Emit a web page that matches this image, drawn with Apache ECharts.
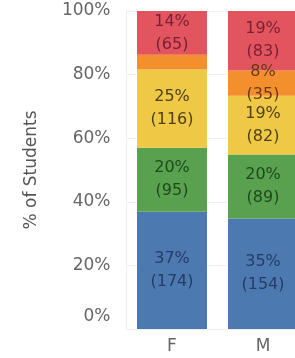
<!DOCTYPE html>
<html>
<head>
<meta charset="utf-8">
<script src="https://cdn.jsdelivr.net/npm/echarts@6/dist/echarts.min.js"></script>
<style>
    html, body { margin: 0; padding: 0; background: #fff; }
    #diagram { width: 295px; height: 358px; }
</style>
</head>
<body>
<div id="diagram"></div>
<script>
// 类别
let genders = ['F', 'M'];

// 各段人数（自下而上）
let blueCounts = [174, 154];
let greenCounts = [95, 89];
let yellowCounts = [116, 82];
let orangeCounts = [22, 35];
let redCounts = [65, 83];

// y轴刻度
let tickValues = [0, 20, 40, 60, 80, 100];

window.onload = function () {

    let diagram = echarts.init(document.getElementById('diagram'));

    let groups = [
        { name: 'blue', counts: blueCounts, color: '#4c79b0', text: '#263c66' },
        { name: 'green', counts: greenCounts, color: '#59a14f', text: '#1d4a1c' },
        { name: 'yellow', counts: yellowCounts, color: '#efc846', text: '#4f4112' },
        { name: 'orange', counts: orangeCounts, color: '#f48f2e', text: '#6a3a12' },
        { name: 'red', counts: redCounts, color: '#e2555e', text: '#782034' }
    ];

    // 每个类别的总人数
    let totals = genders.map(function (g, i) {
        let sum = 0;
        groups.forEach(function (grp) { sum += grp.counts[i]; });
        return sum;
    });

    let series = groups.map(function (grp) {
        return {
            name: grp.name,
            type: 'bar',
            stack: 'all',
            barWidth: 70,
            itemStyle: { color: grp.color },
            label: {
                show: true,
                position: 'inside',
                color: grp.text,
                fontFamily: 'DejaVu Sans',
                fontSize: 16,
                lineHeight: 23,
                formatter: function (p) {
                    if (p.value < 5) return '';   // 太小的不显示
                    return Math.round(p.value) + '%\n(' + grp.counts[p.dataIndex] + ')';
                }
            },
            data: grp.counts.map(function (c, i) { return c / totals[i] * 100; })
        };
    });

    let option = {
        animation: false,
        grid: {
            left: 126.5,
            width: 182,     // 右边超出画面，被裁掉一部分
            top: 11,
            bottom: 29,
            outerBoundsMode: 'none'
        },
        xAxis: {
            type: 'category',
            data: genders,
            axisLine: { show: true, lineStyle: { color: '#ececec' } },
            axisTick: { show: false },
            axisLabel: {
                margin: 9,
                color: '#666',
                fontFamily: 'DejaVu Sans',
                fontSize: 17
            }
        },
        yAxis: {
            type: 'value',
            min: 0,
            max: 100,
            interval: 20,
            name: '% of Students',
            nameLocation: 'middle',
            nameGap: 86,
            nameRotate: 90,
            nameTextStyle: {
                color: '#555',
                fontFamily: 'DejaVu Sans',
                fontSize: 17
            },
            axisLine: { show: true, lineStyle: { color: '#efefef' } },
            axisTick: { show: false },
            splitLine: { lineStyle: { color: '#f0f0f0' } },
            axisLabel: {
                margin: 16,
                color: '#666',
                fontFamily: 'DejaVu Sans',
                fontSize: 17,
                formatter: function (v) {
                    if (tickValues.indexOf(v) < 0) return '';
                    if (v === 0) return '{z|0%}';
                    return v + '%';
                },
                rich: {
                    z: {
                        color: '#666',
                        fontFamily: 'DejaVu Sans',
                        fontSize: 17,
                        padding: [0, 0, 24, 0]
                    }
                }
            }
        },
        series: series
    };

    diagram.setOption(option, true);
};
</script>
</body>
</html>
